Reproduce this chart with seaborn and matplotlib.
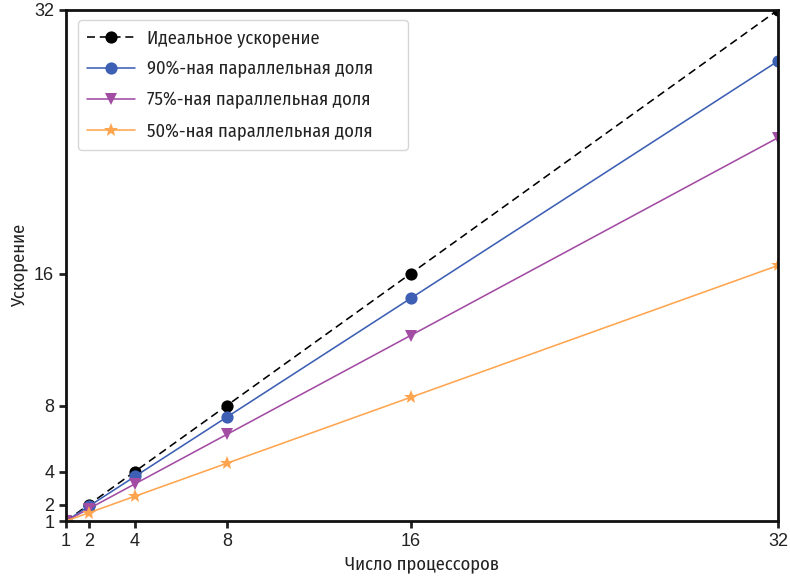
import matplotlib
matplotlib.use("Agg")
import matplotlib.pyplot as plt
import seaborn as sns
import pandas as pd

processors = [1, 2, 4, 8, 16, 32]
ideal = [1, 2, 4, 8, 16, 32]
par_90 = [1, 1.9, 3.7, 7.3, 14.5, 28.9]
par_75 = [1, 1.75, 3.25, 6.25, 12.25, 24.25]
par_50 = [1, 1.5, 2.5, 4.5, 8.5, 16.5]
labels = ["Идеальное ускорение", "90%-ная параллельная доля",
          "75%-ная параллельная доля", "50%-ная параллельная доля"]
ticks = [1, 2, 4, 8, 16, 32]

sns.set_style("ticks")
cond = ["Fira Sans Condensed", "DejaVu Sans"]
plt.rcParams["font.family"] = ["Liberation Sans", "DejaVu Sans"]

fig = plt.figure(figsize=(7.9, 5.8), dpi=100)
ax = fig.add_axes([0.0835, 0.1017, 0.9015, 0.8813])

styles = [
    (ideal, "black", "o", (0, (5, 3)), 8.8),
    (par_90, "#3d5fb4", "o", "-", 8.8),
    (par_75, "#a24ca4", "v", "-", 8.5),
    (par_50, "#ffa54f", "*", "-", 10),
]
for (vals, col, mk, ls, ms), lab in zip(styles, labels):
    df = pd.DataFrame({"N": processors, "S": vals})
    sns.lineplot(data=df, x="N", y="S", ax=ax, color=col, marker=mk,
                 linestyle=ls, linewidth=1.15, markersize=ms,
                 markeredgewidth=0, label=lab)

ax.set_xlim(1, 32)
ax.set_ylim(1, 32)
ax.set_xticks(ticks)
ax.set_yticks(ticks)
ax.tick_params(labelsize=13, width=2, length=5, colors="#222222")
for s in ax.spines.values():
    s.set_linewidth(2)
    s.set_color("#111111")
ax.set_xlabel("Число процессоров", family=cond, fontsize=13.3, color="#222222")
ax.set_ylabel("Ускорение", family=cond, fontsize=13.3, color="#222222")
leg = ax.legend(loc="upper left", bbox_to_anchor=(0.0169, 0.5, 0.4635, 0.48),
                mode="expand", borderaxespad=0, borderpad=0.5,
                labelspacing=0.72, handlelength=2.6, handletextpad=0.65,
                prop={"family": cond, "size": 13.3})
for t in leg.get_texts():
    t.set_color("#222222")

fig.savefig("out.png", dpi=100)
